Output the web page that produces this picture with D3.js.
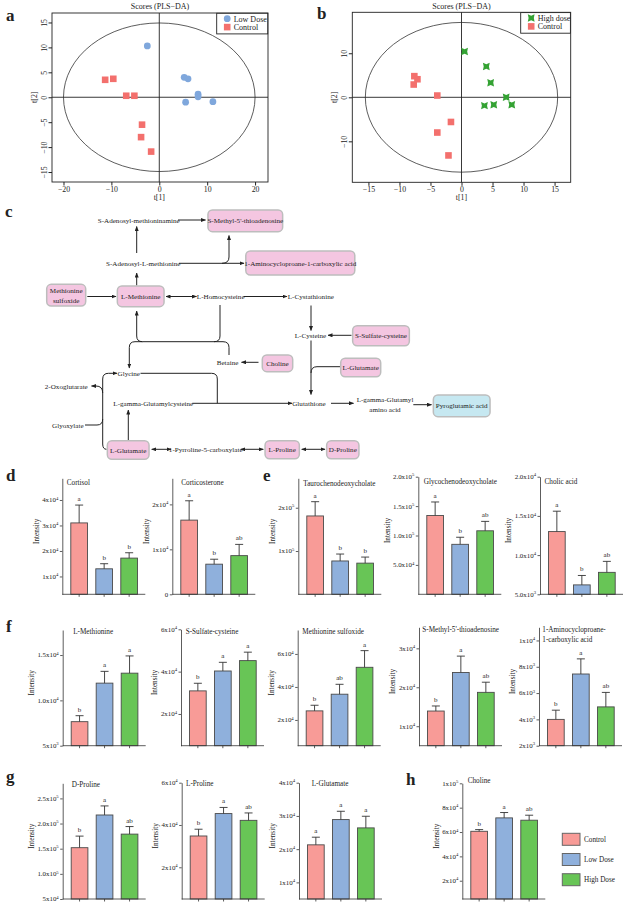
<!DOCTYPE html>
<html>
<head>
<meta charset="utf-8">
<script src="https://cdn.jsdelivr.net/npm/d3@7"></script>
<style>
  body { margin: 0; background: #fff; }
  text { font-family: "Liberation Serif", "Times New Roman", serif; fill: #222; }
</style>
</head>
<body>
<div id="fig"></div>
<script>
// ---------- data: PLS-DA scores ----------
var scoreA_low  = [[-2.5,10.3],[5.2,4.0],[6.0,3.7],[8.1,0.6],[8.1,0.1],[5.5,-1.0],[11.2,-0.9]];
var scoreA_ctrl = [[-11.3,3.5],[-9.6,3.7],[-6.9,0.3],[-5.2,0.3],[-3.6,-5.5],[-3.8,-8.0],[-1.7,-10.9]];
var scoreB_high = [[0.5,10.4],[4.0,7.0],[4.7,3.3],[7.2,0.0],[3.7,-1.9],[5.2,-1.7],[8.1,-1.7]];
var scoreB_ctrl = [[-7.6,4.8],[-7.1,4.1],[-7.7,2.9],[-3.9,0.4],[-1.7,-5.6],[-3.9,-8.0],[-2.1,-13.2]];
var ticksA_x = [-20,-10,0,10,20], ticksA_y = [-15,-10,-5,0,5,10,15];
var ticksB_x = [-15,-10,-5,0,5,10,15], ticksB_y = [-10,0,10];

// ---------- data: bar charts ----------
var groups = ["Control", "Low Dose", "High Dose"];
var metabolites = ["Cortisol", "Corticosterone", "Taurochenodeoxycholate", "Glycochenodeoxycholate",
  "Cholic acid", "L-Methionine", "S-Sulfate-cysteine", "Methionine sulfoxide",
  "S-Methyl-5'-thioadenosine", "1-Aminocycloproane-\n1-carboxylic acid",
  "D-Proline", "L-Proline", "L-Glutamate", "Choline"];
var meanVals = [
  [31000, 13000, 17200], [16500, 6700, 8600], [181000, 77000, 72000], [134000, 85000, 108000],
  [13000, 6200, 7800], [7650, 11900, 13000], [30900, 40300, 45200], [25500, 35600, 51900],
  [13900, 23800, 18700], [4000, 7450, 4950], [152000, 217000, 179000], [34800, 45400, 42200],
  [21300, 28900, 26400], [60600, 71600, 69700]];
var upperVals = [
  [38000, 15000, 19300], [20800, 7800, 11100], [214000, 93000, 86000], [157000, 97000, 124000],
  [15600, 7400, 9200], [8310, 13200, 14900], [34500, 44400, 49200], [28900, 41600, 62000],
  [15200, 28000, 21300], [4700, 8600, 6050], [175000, 235000, 194000], [38000, 48300, 45700],
  [23600, 31400, 29900], [62000, 76000, 73800]];
var sigLetters = [
  ["a","b","b"], ["a","b","ab"], ["a","b","b"], ["a","b","ab"], ["a","b","ab"],
  ["b","a","a"], ["b","a","a"], ["b","ab","a"], ["b","a","ab"], ["b","a","ab"],
  ["b","a","ab"], ["b","a","ab"], ["a","a","a"], ["b","a","ab"]];
var axisDomains = [
  [3000, 48500], [0, 25800], [0, 268000], [0, 200000], [5000, 20000],
  [5000, 17760], [5000, 60000], [4400, 74500], [5000, 35400], [2000, 11000],
  [50000, 280000], [5000, 60000], [5000, 40000], [5000, 100000]];
var tickVals = [
  [10000, 20000, 30000, 40000], [0, 10000, 20000], [100000, 200000],
  [50000, 100000, 150000, 200000], [5000, 10000, 15000, 20000],
  [5000, 10000, 15000], [20000, 40000, 60000], [20000, 40000, 60000],
  [10000, 20000, 30000], [2000, 4000, 6000, 8000, 10000],
  [50000, 100000, 150000, 200000, 250000], [20000, 40000, 60000],
  [10000, 20000, 30000, 40000], [20000, 40000, 60000, 80000, 100000]];
var tickLabels = [
  ["1x10^4","2x10^4","3x10^4","4x10^4"], ["0","1x10^4","2x10^4"], ["1x10^5","2x10^5"],
  ["5.0x10^4","1.0x10^5","1.5x10^5","2.0x10^5"], ["5.0x10^3","1.0x10^4","1.5x10^4","2.0x10^4"],
  ["5x10^3","1.0x10^4","1.5x10^4"], ["2x10^4","4x10^4","6x10^4"], ["2x10^4","4x10^4","6x10^4"],
  ["1x10^4","2x10^4","3x10^4"], ["2x10^3","4x10^3","6x10^3","8x10^3","1x10^4"],
  ["5x10^4","1.0x10^5","1.5x10^5","2.0x10^5","2.5x10^5"], ["2x10^4","4x10^4","6x10^4"],
  ["1x10^4","2x10^4","3x10^4","4x10^4"], ["2x10^4","4x10^4","6x10^4","8x10^4","1x10^5"]];

var barColors = ["#f89b97", "#8fb0dc", "#68c556"];
var W = 631, H = 907;

var svg = d3.select("#fig").append("svg").attr("width", W).attr("height", H);
svg.append("rect").attr("width", W).attr("height", H).attr("fill", "#fff");

// arrow head used by the pathway
svg.append("defs").append("marker")
    .attr("id", "arr").attr("viewBox", "0 0 10 8")
    .attr("refX", 9).attr("refY", 4)
    .attr("markerUnits", "userSpaceOnUse")
    .attr("markerWidth", 5).attr("markerHeight", 4)
    .attr("orient", "auto-start-reverse")
  .append("path").attr("d", "M0,0 L10,4 L0,8 z").attr("fill", "#222");

function panelLabel(t, x, y) {
  svg.append("text").attr("x", x).attr("y", y).attr("font-size", 17)
    .attr("font-weight", "bold").attr("fill", "#111").text(t);
}

// ---------- PLS-DA score plots ----------
function scatter(o) {
  var g = svg.append("g");
  var x = d3.scaleLinear().domain(o.xd).range([o.x0, o.x1]);
  var y = d3.scaleLinear().domain(o.yd).range([o.y1, o.y0]);

  g.append("ellipse")
    .attr("cx", x(0)).attr("cy", y(0))
    .attr("rx", x(o.ell[0]) - x(0)).attr("ry", y(0) - y(o.ell[1]))
    .attr("fill", "none").attr("stroke", "#333").attr("stroke-width", 0.8);
  g.append("line").attr("x1", x(0)).attr("x2", x(0)).attr("y1", o.y0).attr("y2", o.y1)
    .attr("stroke", "#222").attr("stroke-width", 0.9);
  g.append("line").attr("x1", o.x0).attr("x2", o.x1).attr("y1", y(0)).attr("y2", y(0))
    .attr("stroke", "#222").attr("stroke-width", 0.9);
  g.append("rect").attr("x", o.x0).attr("y", o.y0)
    .attr("width", o.x1 - o.x0).attr("height", o.y1 - o.y0)
    .attr("fill", "none").attr("stroke", "#222").attr("stroke-width", 0.9);

  g.append("g").attr("transform", "translate(0," + o.y1 + ")")
    .call(d3.axisBottom(x).tickValues(o.xt).tickSize(3.5).tickPadding(0.5))
    .call(function(a) {
      a.select(".domain").remove();
      a.selectAll("line").attr("stroke", "#222");
      a.selectAll("text").attr("font-size", 7.8);
    });
  g.append("g").attr("transform", "translate(" + o.x0 + ",0)")
    .call(d3.axisLeft(y).tickValues(o.yt).tickSize(3.5))
    .call(function(a) {
      a.select(".domain").remove();
      a.selectAll("line").attr("stroke", "#222");
      a.selectAll("text").attr("font-size", 7.8).attr("x", null).attr("dy", null)
        .attr("text-anchor", "middle").attr("transform", "translate(-5.5,0) rotate(-90)");
    });

  g.append("text").attr("x", (o.x0 + o.x1) / 2).attr("y", 9)
    .attr("text-anchor", "middle").attr("font-size", 8).text("Scores (PLS\u2212DA)");
  g.append("text").attr("x", x(0)).attr("y", 199.5)
    .attr("text-anchor", "middle").attr("font-size", 7.8).text("t[1]");
  g.append("text").attr("transform", "translate(" + (o.x0 - 15) + "," + y(0) + ") rotate(-90)")
    .attr("text-anchor", "middle").attr("font-size", 7.8).text("t[2]");

  o.series.forEach(function(s) {
    g.selectAll(null).data(s.data).enter().append("path")
      .attr("transform", function(d) { return "translate(" + x(d[0]) + "," + y(d[1]) + ")"; })
      .attr("d", s.shape).attr("fill", s.color);
  });

  // legend
  var lg = g.append("g");
  lg.append("rect").attr("x", o.lx).attr("y", o.y0 + 0.3).attr("width", o.x1 - o.lx - 0.3).attr("height", 20.6)
    .attr("fill", "#fff").attr("stroke", "#222").attr("stroke-width", 0.9);
  o.series.slice().reverse().forEach(function(s, k) {
    lg.append("path").attr("transform", "translate(" + (o.lx + 10.5) + "," + (o.y0 + 5.7 + k * 8.4) + ")")
      .attr("d", s.shape).attr("fill", s.color);
    lg.append("text").attr("x", o.lx + 17).attr("y", o.y0 + 8.5 + k * 8.4)
      .attr("font-size", 8).text(s.name);
  });
}

var circleShape = d3.symbol(d3.symbolCircle, 36)();
var squareShape = "M-3.3,-3.3H3.3V3.3H-3.3Z";
var bowShape = "M-3.4,-3.7L0,-2.2L3.4,-3.7L2.6,0L3.4,3.7L0,2.2L-3.4,3.7L-2.6,0Z";

scatter({ x0: 52, x1: 268, y0: 13, y1: 182, xd: [-22.4, 22.7], yd: [-17, 16.9],
  xt: ticksA_x, yt: ticksA_y, ell: [20, 14.9], lx: 216.7,
  series: [
    { name: "Control", data: scoreA_ctrl, color: "#f3706d", shape: squareShape },
    { name: "Low Dose", data: scoreA_low, color: "#7fa7dc", shape: circleShape }
  ] });
scatter({ x0: 352.3, x1: 570.7, y0: 12.3, y1: 182.3, xd: [-17.6, 17.6], yd: [-19.3, 19.3],
  xt: ticksB_x, yt: ticksB_y, ell: [15.5, 17], lx: 520.7,
  series: [
    { name: "Control", data: scoreB_ctrl, color: "#f3706d", shape: squareShape },
    { name: "High dose", data: scoreB_high, color: "#34a233", shape: bowShape }
  ] });
panelLabel("a", 6, 21);
panelLabel("b", 317, 19);

// ---------- pathway (panel c) ----------
var pathNodes = [
  { t: "S-Adenosyl-methioninamine", x: 138.7, y: 220 },
  { t: "S-Methyl-5'-thioadenosine", x: 245.3, y: 220.8, w: 74.7, h: 21.7, k: "p" },
  { t: "S-Adenosyl-L-methionine", x: 143.3, y: 263.3 },
  { t: "1-Aminocycloproane-1-carboxylic acid", x: 300.3, y: 263, w: 109, h: 24, k: "p" },
  { t: "Methionine\nsulfoxide", x: 66.2, y: 295.2, w: 39, h: 21.7, k: "p" },
  { t: "L-Methionine", x: 140.7, y: 296.3, w: 46.7, h: 20.7, k: "p" },
  { t: "L-Homocysteine", x: 220.7, y: 296.7 },
  { t: "L-Cystathionine", x: 310.8, y: 296.7 },
  { t: "L-Cysteine", x: 310.5, y: 335 },
  { t: "S-Sulfate-cysteine", x: 381, y: 335.7, w: 56.7, h: 20, k: "p" },
  { t: "L-Glutamate", x: 360.7, y: 367.5, w: 40, h: 18.4, k: "p" },
  { t: "Betaine", x: 227.5, y: 362.3 },
  { t: "Choline", x: 277.5, y: 363.3, w: 30.4, h: 16.7, k: "p" },
  { t: "Glycine", x: 128.8, y: 373.3 },
  { t: "2-Oxoglutarate", x: 66.3, y: 386 },
  { t: "L-gamma-Glutamylcysteine", x: 153.3, y: 403.3 },
  { t: "Glutathione", x: 309, y: 403.3 },
  { t: "L-gamma-Glutamyl\namino acid", x: 385, y: 404.3 },
  { t: "Pyroglutamic acid", x: 461.7, y: 405.8, w: 56.7, h: 21.7, k: "b" },
  { t: "Glyoxylate", x: 67.8, y: 425 },
  { t: "L-Glutamate", x: 128.2, y: 450, w: 41.7, h: 18.6, k: "p" },
  { t: "1-Pyrroline-5-carboxylate", x: 205.7, y: 449.3 },
  { t: "L-Proline", x: 282.2, y: 449.7, w: 34.3, h: 18, k: "p" },
  { t: "D-Proline", x: 342.8, y: 449.7, w: 32.3, h: 18, k: "p" }
];
var pathEdges = [
  { d: "M178,220 H205.5", e: 1 },
  { d: "M136.7,253 V226.5", e: 1 },
  { d: "M179,263.3 H244", e: 1 },
  { d: "M222,263.3 Q229,263.3 229,257 V235.5", e: 1 },
  { d: "M136.7,285.5 V273", e: 1 },
  { d: "M87.3,296.5 H116", e: 1 },
  { d: "M166,296.5 H196.5", s: 1, e: 1 },
  { d: "M243.5,296.5 H287", e: 1 },
  { d: "M311,305.5 V330.5", e: 1 },
  { d: "M351.5,335.3 H328", e: 1 },
  { d: "M311,340.5 V394.5", e: 1 },
  { d: "M340,366.7 H317 Q311,366.7 311,373" },
  { d: "M220,305 V336 Q220,341.7 214,341.7 H142.5 Q136.7,341.7 136.7,336 V311", e: 1 },
  { d: "M229,355 V347.5 Q229,341.7 223,341.7 H214" },
  { d: "M142.5,341.7 H135 Q129.3,341.7 129.3,347.5 V368", e: 1 },
  { d: "M258.5,362.3 H241.5", e: 1 },
  { d: "M140.5,373.3 H211.5 Q217.3,373.3 217.3,379 V403.3" },
  { d: "M192.3,403.3 H292", e: 1 },
  { d: "M331,403.3 H353.5", e: 1 },
  { d: "M413.3,404.7 H431.5", e: 1 },
  { d: "M128.3,440.5 V410", e: 1 },
  { d: "M106.5,449.3 Q102.7,449.3 102.7,444 V379 Q102.7,373.3 108.5,373.3 H117", e: 1 },
  { d: "M85,425 H97 Q102.7,425 102.7,419" },
  { d: "M102.7,393 Q102.7,386 96,386 H91.5", e: 1 },
  { d: "M151.7,449.3 H171", s: 1, e: 1 },
  { d: "M240.7,449.3 H263.3", s: 1, e: 1 },
  { d: "M301.7,449.3 H325", s: 1, e: 1 }
];

var pc = svg.append("g");
pc.selectAll(null).data(pathEdges).enter().append("path")
  .attr("d", function(d) { return d.d; })
  .attr("fill", "none").attr("stroke", "#222").attr("stroke-width", 1)
  .attr("marker-end", function(d) { return d.e ? "url(#arr)" : null; })
  .attr("marker-start", function(d) { return d.s ? "url(#arr)" : null; });

pathNodes.forEach(function(n) {
  if (n.k) {
    pc.append("rect").attr("x", n.x - n.w / 2).attr("y", n.y - n.h / 2)
      .attr("width", n.w).attr("height", n.h).attr("rx", 4.5)
      .attr("fill", n.k == "p" ? "#f4c6e1" : "#c6e8f1")
      .attr("stroke", "#bdbdbd").attr("stroke-width", 1.5);
  }
  var lines = n.t.split("\n");
  lines.forEach(function(l, k) {
    pc.append("text").attr("x", n.x)
      .attr("y", n.y + 2.5 + (k - (lines.length - 1) / 2) * 9.6)
      .attr("text-anchor", "middle").attr("font-size", 7.1).text(l);
  });
});
panelLabel("c", 5, 217);

// ---------- bar charts (panels d-h) ----------
var barLayout = [
  { ox: 62.3, top: 478.3, bot: 594.3, tdx: 4.5, ty: 485 },
  { ox: 172.3, top: 478.3, bot: 594.3, tdx: 9, ty: 485 },
  { ox: 298.3, top: 478.3, bot: 594.3, tdx: 5, ty: 485.5 },
  { ox: 418.3, top: 476.7, bot: 594.3, tdx: 5.5, ty: 484 },
  { ox: 540, top: 476.7, bot: 594.3, tdx: 4.5, ty: 484 },
  { ox: 62.7, top: 630, bot: 745.7, tdx: 10.5, ty: 634 },
  { ox: 181, top: 629.3, bot: 745.7, tdx: 4.7, ty: 634 },
  { ox: 297.7, top: 630, bot: 745.7, tdx: 4.6, ty: 634 },
  { ox: 419, top: 627.3, bot: 745.7, tdx: 3.3, ty: 631.5 },
  { ox: 539, top: 627.3, bot: 745.7, tdx: 3.3, ty: 632.3 },
  { ox: 62.7, top: 783.3, bot: 899, tdx: 9, ty: 787 },
  { ox: 181.7, top: 782.7, bot: 899, tdx: 4.3, ty: 786.3 },
  { ox: 299, top: 782.7, bot: 899, tdx: 12.7, ty: 786.3 },
  { ox: 462.3, top: 783.3, bot: 899, tdx: 5.4, ty: 782.5 }
];

function barChart(i) {
  var L = barLayout[i];
  var g = svg.append("g");
  var y = d3.scaleLinear().domain(axisDomains[i]).range([L.bot, L.top]);
  var x = d3.scaleBand().domain(groups).range([L.ox + 8.5, L.ox + 75.2]).paddingInner(0.332);

  // bars
  g.selectAll(null).data(groups).enter().append("rect")
    .attr("x", function(d) { return x(d); })
    .attr("y", function(d, j) { return y(meanVals[i][j]); })
    .attr("width", x.bandwidth())
    .attr("height", function(d, j) { return L.bot - y(meanVals[i][j]); })
    .attr("fill", function(d, j) { return barColors[j]; })
    .attr("stroke", "#4a4a4a").attr("stroke-width", 0.9);

  // error bars (upper only) and letters
  groups.forEach(function(gr, j) {
    var cx = x(gr) + x.bandwidth() / 2;
    g.append("line").attr("x1", cx).attr("x2", cx)
      .attr("y1", y(meanVals[i][j])).attr("y2", y(upperVals[i][j]))
      .attr("stroke", "#333").attr("stroke-width", 0.9);
    g.append("line").attr("x1", cx - 4).attr("x2", cx + 4)
      .attr("y1", y(upperVals[i][j])).attr("y2", y(upperVals[i][j]))
      .attr("stroke", "#333").attr("stroke-width", 0.9);
    g.append("text").attr("x", cx).attr("y", y(upperVals[i][j]) - 4)
      .attr("text-anchor", "middle").attr("font-size", 7).attr("fill", "#222")
      .style("fill", "#222").text(sigLetters[i][j]);
    g.append("line").attr("x1", cx).attr("x2", cx).attr("y1", L.bot).attr("y2", L.bot + 2.5)
      .attr("stroke", "#333").attr("stroke-width", 0.8);
  });

  // axes
  g.append("g").attr("transform", "translate(" + L.ox + ",0)")
    .call(d3.axisLeft(y).tickValues(tickVals[i]).tickSize(2.5).tickSizeOuter(0).tickFormat(""))
    .call(function(a) { a.selectAll("line,path").attr("stroke", "#333").attr("stroke-width", 0.8); });
  g.append("line").attr("x1", L.ox).attr("x2", L.ox + 83).attr("y1", L.bot).attr("y2", L.bot)
    .attr("stroke", "#333").attr("stroke-width", 0.8);

  var labs = g.selectAll(null).data(tickVals[i]).enter().append("text")
    .attr("x", L.ox - 4).attr("y", function(d) { return y(d) + 2.4; })
    .attr("text-anchor", "end").attr("font-size", 6.9);
  labs.each(function(d, j) {
    var parts = tickLabels[i][j].split("^");
    var t = d3.select(this);
    t.append("tspan").text(parts[0]);
    if (parts[1]) t.append("tspan").attr("font-size", 4.7).attr("dy", -2.7).text(parts[1]);
  });
  var maxw = d3.max(labs.nodes(), function(n) { return n.getComputedTextLength(); });

  g.append("text")
    .attr("transform", "translate(" + (L.ox - 7.5 - maxw) + "," + ((L.top + L.bot) / 2 - 5) + ") rotate(-90)")
    .attr("text-anchor", "middle").attr("font-size", 7.2).text("Intensity");

  metabolites[i].split("\n").forEach(function(l, k) {
    g.append("text").attr("x", L.ox + L.tdx).attr("y", L.ty + k * 9.3)
      .attr("font-size", 7.2).text(l);
  });
}

for (var i = 0; i < metabolites.length; i++) barChart(i);

panelLabel("d", 6, 481);
panelLabel("e", 263, 481);
panelLabel("f", 6, 632);
panelLabel("g", 6, 782);
panelLabel("h", 406, 785);

// group legend
var leg = svg.append("g");
groups.forEach(function(gr, j) {
  leg.append("rect").attr("x", 562.3).attr("y", 833.3 + j * 20.2)
    .attr("width", 17.7).attr("height", 12)
    .attr("fill", barColors[j]).attr("stroke", "#666").attr("stroke-width", 1);
  leg.append("text").attr("x", 584).attr("y", 842 + j * 20.2)
    .attr("font-size", 7.2).text(gr);
});
</script>
</body>
</html>
